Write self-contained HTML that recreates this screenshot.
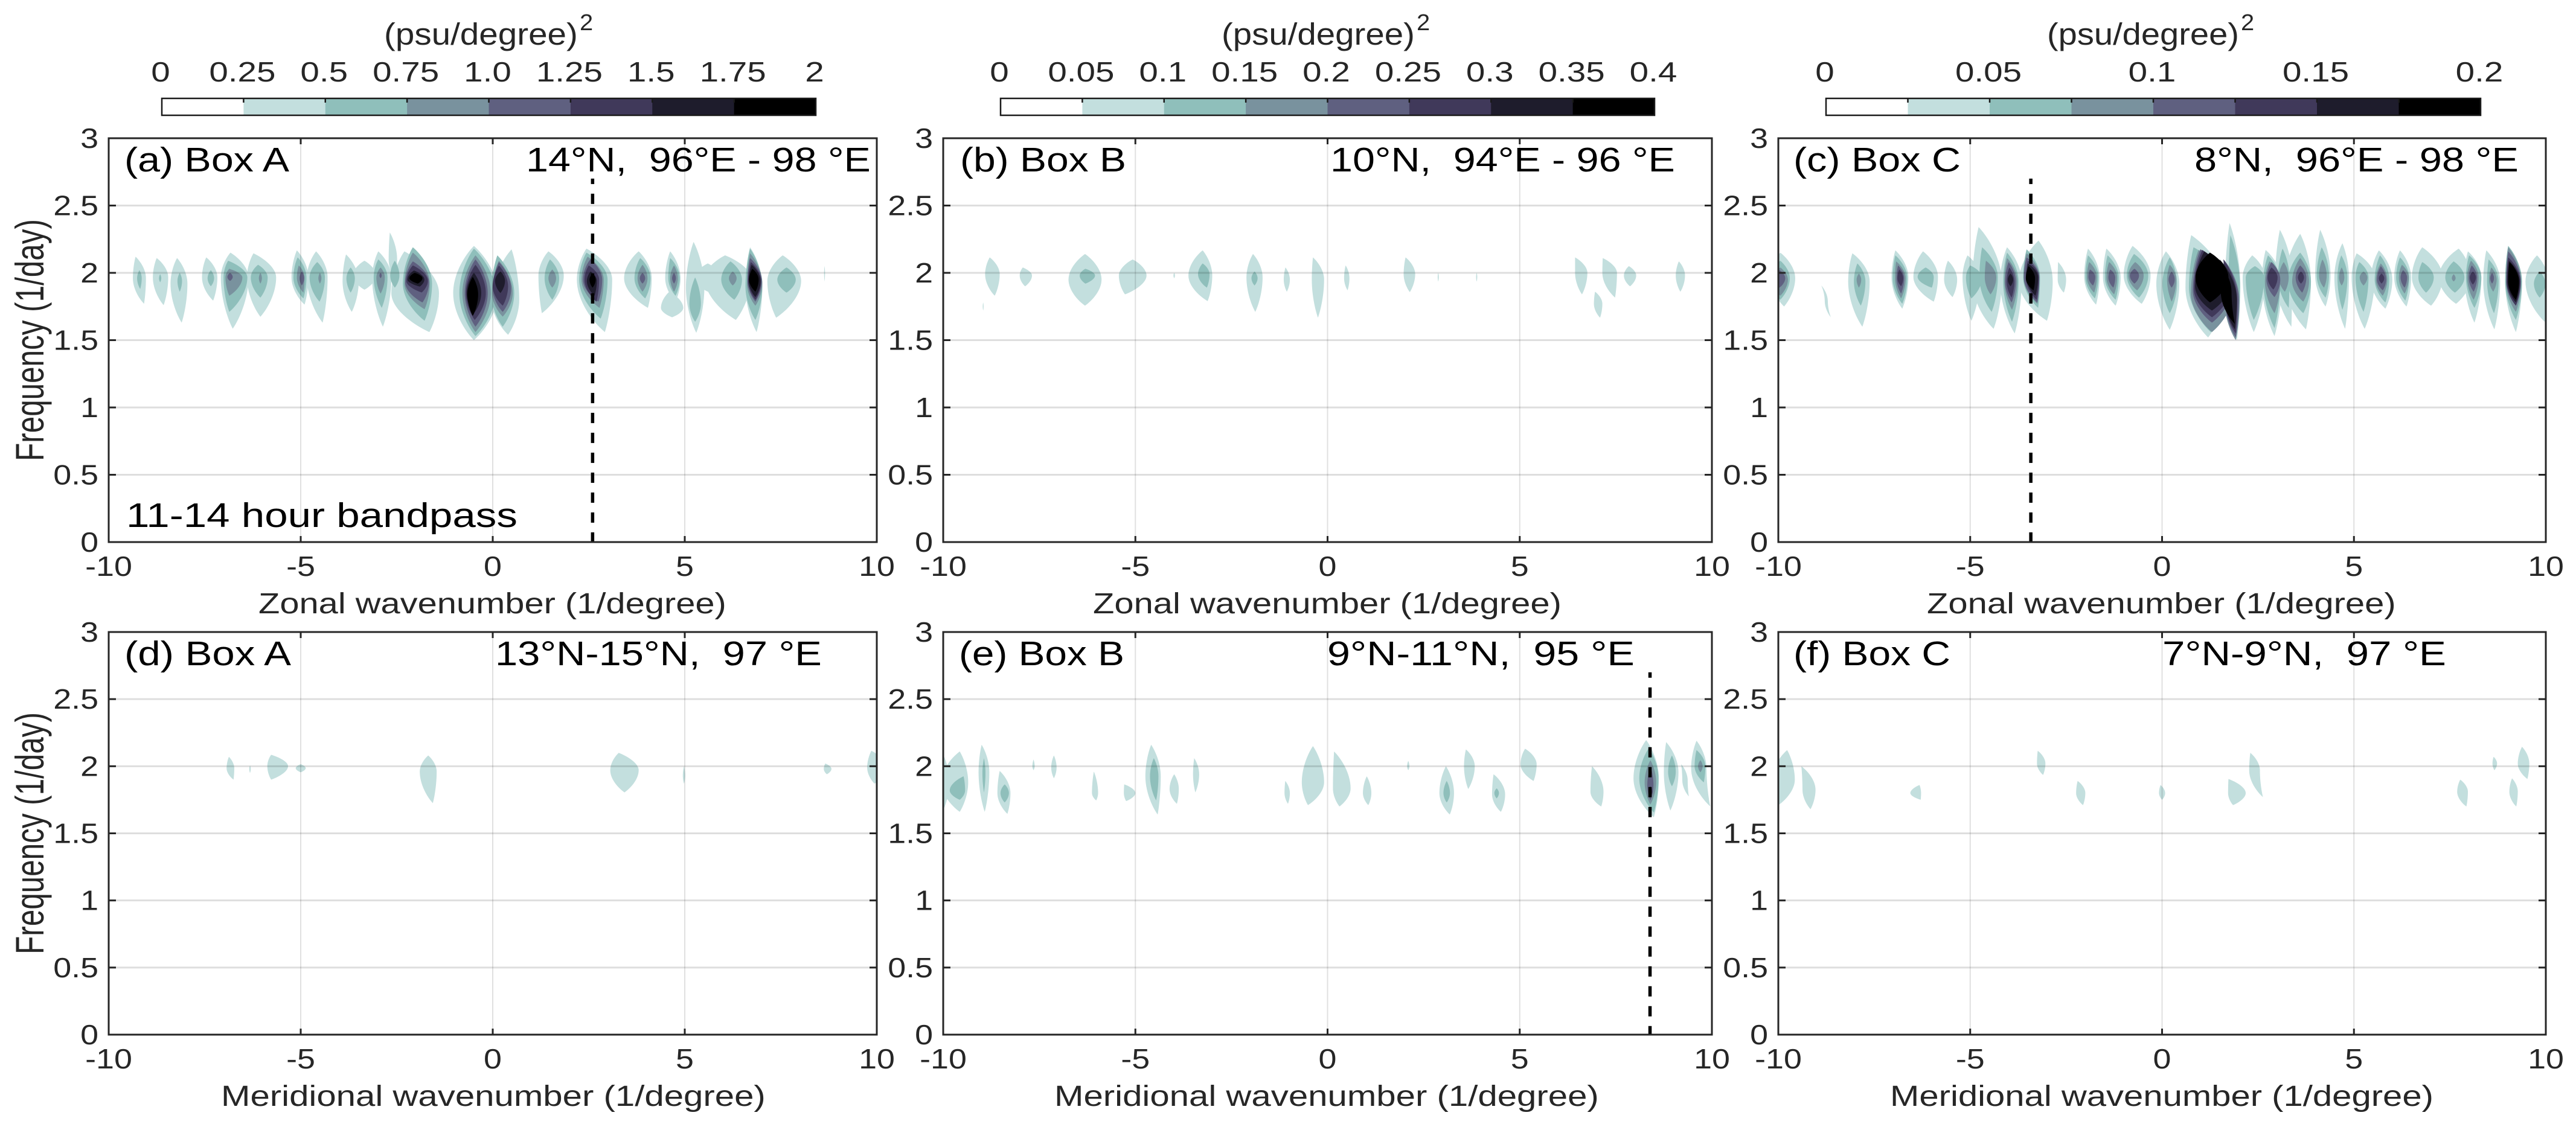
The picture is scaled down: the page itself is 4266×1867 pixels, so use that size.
<!DOCTYPE html>
<html lang="en">
<head>
<meta charset="utf-8">
<title>Wavenumber-frequency spectra, Box A, B, C</title>
<style>
html,body{margin:0;padding:0;background:#fff;width:4266px;height:1867px;overflow:hidden}
svg{display:block;font-family:"Liberation Sans",Arial,sans-serif}
</style>
</head>
<body>
<svg id="figure" xmlns="http://www.w3.org/2000/svg" width="4266" height="1867" viewBox="0 0 4266 1867"></svg>
<script>
// Tick labels
const xTickValues = [-10, -5, 0, 5, 10];
const yTickValues = [0, 0.5, 1, 1.5, 2, 2.5, 3];
const cbarLabelsA = ["0","0.25","0.5","0.75","1.0","1.25","1.5","1.75","2"];
const cbarLabelsB = ["0","0.05","0.1","0.15","0.2","0.25","0.3","0.35","0.4"];
const cbarLabelsC = ["0","","0.05","","0.1","","0.15","","0.2"];
const dashWavenumbers = {a: 2.6, c: -3.42, e: 8.39};
const dashTopFrequency = 2.7;

// Contour shapes: [level, kTop, fTop, kMid, fMid, halfWidth, kBottom, fBottom]
const shapesA = [
[1,-9.3,2.12,-9.2,1.96,.17,-9.08,1.77],[2,-9.2,2.02,-9.2,1.96,.06,-9.18,1.88],
[1,-8.75,2.11,-8.65,1.966,.2,-8.57,1.76],[2,-8.66,1.99,-8.66,1.96,.03,-8.66,1.93],
[1,-8.22,2.11,-8.17,1.92,.22,-8.1,1.63],[2,-8.15,2,-8.15,1.94,.06,-8.15,1.86],
[1,-7.46,2.115,-7.37,1.966,.2,-7.28,1.794],[2,-7.34,2.02,-7.34,1.96,.085,-7.34,1.9],
[1,-6.83,2.15,-6.72,1.966,.36,-6.77,1.585],[2,-6.89,2.09,-6.7,1.966,.31,-6.86,1.71],[3,-6.86,2.03,-6.74,1.966,.22,-6.86,1.83],[4,-6.84,2,-6.84,1.97,.07,-6.84,1.94],
[1,-6.23,2.145,-6.02,1.966,.38,-6.05,1.674],[2,-6.11,2.06,-6.08,1.966,.22,-6.05,1.816],[3,-6.05,2,-6.05,1.96,.04,-6.05,1.92],
[1,-5.1,2.167,-5.02,1.966,.22,-4.9,1.764],[2,-5.08,2.115,-5.02,1.966,.17,-4.93,1.81],[3,-5.05,2.055,-5,1.966,.1,-4.93,1.853],[4,-4.97,2.01,-4.97,1.96,.06,-4.97,1.906],
[1,-4.6,2.16,-4.57,1.966,.27,-4.43,1.63],[2,-4.57,2.08,-4.57,1.966,.2,-4.51,1.786],[3,-4.5,2,-4.5,1.96,.04,-4.5,1.92],
[1,-3.82,2.137,-3.7,1.936,.21,-3.67,1.71],[2,-3.7,2.04,-3.7,1.96,.11,-3.7,1.853],
[1,-3.34,2.09,-3.34,1.98,.3,-3.34,1.875],
[1,-2.98,2.16,-2.89,1.966,.25,-2.86,1.6],[2,-2.98,2.1,-2.92,1.966,.18,-2.89,1.74],[3,-2.92,2.04,-2.92,1.966,.11,-2.92,1.846],[4,-2.92,2,-2.92,1.98,.03,-2.92,1.96],
[1,-2.68,2.3,-2.6,2.1,.11,-2.55,1.95],[1,-2.3,2.16,-2.02,1.85,.62,-1.65,1.56],[2,-2.55,2.09,-2.55,1.98,.12,-2.55,1.89],
[2,-2.08,2.19,-1.96,1.92,.38,-1.775,1.644],[3,-2.08,2.15,-1.97,1.92,.33,-1.775,1.73],[4,-2.08,2.085,-1.97,1.93,.31,-1.83,1.78],[5,-2.08,2.055,-1.97,1.94,.28,-1.85,1.854],[6,-2.05,2.018,-2,1.95,.22,-1.9,1.898],[7,-2.03,2,-2,1.96,.17,-1.95,1.92],
[1,-.49,2.2,-.45,1.85,.58,-.49,1.5],[1,.49,2.175,.33,1.8,.36,.4,1.54],
[2,-.49,2.18,-.4,1.85,.47,-.45,1.53],[3,-.45,2.13,-.42,1.85,.37,-.45,1.56],[4,-.45,2.1,-.43,1.85,.3,-.45,1.6],[5,-.45,2.06,-.44,1.85,.26,-.47,1.65],[6,-.49,2,-.49,1.85,.19,-.49,1.7],[7,-.52,1.97,-.52,1.84,.14,-.52,1.68],
[2,.12,2.13,.26,1.85,.3,.26,1.6],[3,.16,2.09,.25,1.85,.27,.26,1.675],[4,.16,2.08,.24,1.88,.24,.26,1.71],[5,.16,2.055,.2,1.9,.2,.26,1.756],[6,.2,2.01,.19,1.94,.13,.2,1.85],
[1,1.45,2.16,1.52,1.98,.33,1.28,1.7],[2,1.49,2.1,1.54,1.96,.19,1.55,1.8],[3,1.55,2.025,1.55,1.96,.1,1.55,1.89],
[1,2.44,2.18,2.65,1.95,.46,2.92,1.56],[2,2.44,2.15,2.62,1.95,.37,2.81,1.66],[3,2.47,2.12,2.6,1.95,.29,2.78,1.74],[4,2.54,2.1,2.6,1.95,.25,2.75,1.786],[5,2.5,2.055,2.58,1.95,.19,2.7,1.786],[6,2.55,2.01,2.58,1.94,.13,2.65,1.83],[7,2.6,1.995,2.6,1.95,.08,2.6,1.89],
[1,3.8,2.16,3.78,1.96,.36,4.04,1.74],[2,3.84,2.11,3.9,1.96,.21,3.97,1.81],[3,3.9,2.06,3.9,1.96,.13,3.9,1.86],[4,3.9,2,3.9,1.96,.07,3.9,1.92],
[1,4.62,2.16,4.69,1.96,.2,4.76,1.786],[1,4.6,1.86,4.67,1.74,.29,4.67,1.67],[2,4.62,2.11,4.72,1.96,.15,4.76,1.83],[3,4.72,2.055,4.72,1.96,.1,4.72,1.86],[4,4.72,2,4.72,1.96,.05,4.72,1.92],
[1,5.23,2.23,5.27,1.89,.24,5.3,1.555],[1,5.6,2.07,5.6,1.96,.35,5.6,1.86],[1,6.05,2.13,6.12,1.96,.6,6.33,1.65],
[2,5.27,1.966,5.27,1.77,.15,5.27,1.637],[2,6.19,2.085,6.22,1.95,.27,6.29,1.8],[3,6.25,2.01,6.25,1.96,.1,6.25,1.906],
[1,6.7,2.19,6.8,1.9,.22,6.87,1.56],[2,6.7,2.18,6.8,1.9,.22,6.84,1.65],[3,6.7,2.145,6.82,1.92,.2,6.84,1.756],[4,6.7,2.11,6.82,1.94,.185,6.84,1.786],[5,6.72,2.08,6.82,1.94,.17,6.84,1.8],[6,6.74,2.06,6.82,1.94,.155,6.84,1.82],[7,6.76,2.03,6.8,1.95,.125,6.84,1.86],
[1,7.55,2.13,7.59,1.94,.44,7.38,1.667],[2,7.65,2.04,7.65,1.95,.24,7.65,1.853],
[1,8.64,2.05,8.64,2,.012,8.64,1.935]
];
const shapesB = [
[1,-8.79,2.115,-8.72,1.99,.19,-8.66,1.83],[1,-7.93,2.04,-7.85,1.98,.16,-7.87,1.9],
[1,-6.31,2.14,-6.31,1.95,.43,-6.31,1.756],[2,-6.3,2.03,-6.25,1.98,.2,-6.3,1.92],
[1,-5.07,2.1,-5.07,1.98,.36,-5.27,1.84],[1,-3.99,2,-3.99,1.98,.02,-3.99,1.96],
[1,-3.25,2.167,-3.31,1.98,.31,-3.12,1.79],[2,-3.25,2.07,-3.22,1.99,.15,-3.14,1.89],
[1,-1.94,2.14,-1.9,1.966,.21,-1.88,1.71],[2,-1.9,2.01,-1.9,1.96,.08,-1.9,1.906],
[1,-1.095,2.04,-1.06,1.95,.08,-1.06,1.86],[1,-.38,2.115,-.25,1.95,.16,-.25,1.667],[1,.47,2.055,.5,1.96,.07,.52,1.87],
[1,2.88,2,2.88,1.97,.015,2.88,1.935],[1,3.88,2,3.88,1.97,.015,3.88,1.935],
[1,2.03,2.115,2.13,1.99,.15,2.14,1.857],[1,6.44,2.115,6.6,2,.16,6.62,1.84],[1,7.16,2.11,7.34,2,.19,7.48,1.816],
[1,7.84,2.05,7.87,1.98,.16,7.87,1.9],[1,6.96,1.86,7.04,1.77,.11,7.09,1.667],[1,9.14,2.085,9.18,1.98,.12,9.18,1.86],[1,-8.96,1.78,-8.96,1.75,.012,-8.96,1.72]
];
const shapesC = [
[1,-9.95,2.15,-9.88,1.96,.32,-9.85,1.75],[2,-9.95,2.09,-9.95,1.96,.25,-9.95,1.8],[3,-9.95,2.04,-9.95,1.95,.2,-9.95,1.83],[4,-9.97,2.02,-9.97,1.96,.15,-9.97,1.89],
[1,-8.88,1.906,-8.75,1.79,.04,-8.63,1.67],
[1,-8.07,2.145,-7.9,1.936,.28,-7.81,1.6],[2,-7.94,2.07,-7.88,1.936,.15,-7.85,1.756],[3,-7.9,1.995,-7.9,1.95,.06,-7.9,1.89],
[1,-6.95,2.167,-6.83,1.966,.22,-6.77,1.734],[2,-6.95,2.13,-6.83,1.96,.19,-6.77,1.77],[3,-6.93,2.085,-6.82,1.96,.14,-6.8,1.81],[4,-6.88,2.055,-6.82,1.96,.1,-6.8,1.846],[5,-6.85,2.025,-6.82,1.96,.075,-6.8,1.9],
[1,-6.23,2.16,-6.16,1.97,.32,-5.95,1.786],[2,-6.16,2.04,-6.16,1.97,.21,-6,1.89],
[1,-5.58,2.09,-5.51,1.95,.17,-5.46,1.82],
[1,-5.07,2.13,-4.97,1.966,.23,-4.97,1.644],[1,-4.78,2.34,-4.56,1.936,.38,-4.39,1.584],[1,-4.04,2.19,-3.94,1.936,.28,-3.84,1.55],[1,-3.22,2.24,-3.29,1.936,.44,-3,1.644],
[2,-5,2.055,-4.9,1.966,.21,-4.97,1.81],[2,-4.69,2.19,-4.52,1.966,.24,-4.44,1.71],[3,-4.59,2.09,-4.47,1.966,.15,-4.47,1.84],
[2,-4.04,2.15,-3.94,1.936,.2,-3.91,1.637],[3,-4.04,2.11,-3.94,1.936,.17,-3.91,1.726],[4,-4,2.08,-3.95,1.936,.14,-3.92,1.78],[5,-3.98,2.04,-3.95,1.936,.1,-3.92,1.816],[6,-3.95,1.995,-3.95,1.95,.07,-3.95,1.9],
[2,-3.53,2.175,-3.4,1.966,.22,-3.23,1.74],[3,-3.53,2.145,-3.4,1.966,.21,-3.25,1.77],[4,-3.53,2.115,-3.4,1.966,.2,-3.25,1.78],[5,-3.5,2.09,-3.38,1.966,.17,-3.27,1.8],[6,-3.5,2.07,-3.38,1.966,.15,-3.3,1.83],[7,-3.48,2.05,-3.43,1.96,.12,-3.35,1.87],
[1,-2.71,2.08,-2.61,1.95,.11,-2.56,1.853],
[1,-1.93,2.18,-1.83,1.97,.2,-1.72,1.764],[2,-1.93,2.13,-1.83,1.97,.17,-1.75,1.81],[3,-1.9,2.08,-1.83,1.97,.13,-1.77,1.853],[4,-1.88,2.025,-1.83,1.97,.09,-1.8,1.906],
[1,-1.45,2.18,-1.31,1.966,.23,-1.21,1.756],[2,-1.42,2.13,-1.31,1.966,.18,-1.21,1.8],[3,-1.38,2.08,-1.31,1.966,.14,-1.25,1.84],[4,-1.35,2.025,-1.31,1.966,.09,-1.27,1.89],
[1,-.77,2.2,-.65,1.98,.35,-.53,1.77],[2,-.73,2.14,-.64,1.98,.28,-.6,1.816],[3,-.7,2.08,-.68,1.98,.2,-.65,1.87],[4,-.72,2.03,-.72,1.98,.12,-.72,1.92],
[1,.1,2.16,.15,1.92,.3,.2,1.577],[2,.2,2.115,.2,1.92,.19,.2,1.7],[3,.2,2.06,.25,1.95,.12,.25,1.786],[4,.25,2.01,.25,1.95,.08,.25,1.89],
[1,.76,2.28,1.13,1.89,.52,1.2,1.52],[1,1.76,2.37,1.84,1.9,.2,1.95,1.5],[2,.82,2.19,1.2,1.89,.5,1.27,1.56],[2,1.78,2.28,1.88,1.9,.15,1.91,1.52],
[3,.95,2.17,1.3,1.85,.55,1.3,1.56],[3,1.6,2.1,1.82,1.8,.2,1.92,1.5],[4,1,2.175,1.3,1.87,.5,1.3,1.63],[4,1.6,2.1,1.82,1.8,.18,1.92,1.52],
[5,1.05,2.17,1.3,1.88,.47,1.3,1.67],[5,1.6,2.1,1.8,1.8,.16,1.92,1.55],[6,1.1,2.16,1.3,1.9,.44,1.3,1.72],[6,1.5,2.1,1.8,1.8,.15,1.9,1.58],
[7,1.25,2.15,1.3,1.966,.43,1.25,1.78],[7,1.4,2.1,1.67,1.86,.14,1.9,1.62],
[1,2.35,2.13,2.39,1.966,.29,2.39,1.56],[2,2.42,2.05,2.42,1.966,.24,2.39,1.65],
[1,2.7,2.17,2.86,1.936,.26,2.93,1.53],[2,2.76,2.13,2.86,1.936,.22,2.93,1.59],[3,2.8,2.085,2.88,1.936,.2,2.93,1.7],[4,2.85,2.08,2.9,1.95,.18,2.93,1.82],[5,2.85,2.04,2.88,1.966,.13,2.9,1.876],
[1,3.07,2.32,3.17,1.966,.22,3.37,1.6],[2,3.14,2.18,3.17,1.966,.15,3.3,1.74],[3,3.17,2.08,3.17,1.966,.13,3.2,1.86],
[1,3.6,2.29,3.54,1.936,.34,3.75,1.58],[2,3.6,2.15,3.58,1.936,.3,3.68,1.7],[3,3.6,2.11,3.61,1.936,.22,3.68,1.786],[4,3.6,2.055,3.62,1.966,.14,3.65,1.853],[5,3.62,2.01,3.62,1.966,.08,3.62,1.92],
[1,4.12,2.32,4.19,1.98,.2,4.26,1.75],[2,4.16,2.19,4.19,1.98,.16,4.26,1.816],[3,4.18,2.1,4.19,1.98,.1,4.22,1.89],
[1,4.7,2.22,4.68,1.966,.19,4.77,1.584],[2,4.67,2.13,4.7,1.966,.13,4.7,1.726],[3,4.68,2.04,4.68,1.966,.07,4.68,1.906],
[1,5.07,2.145,5.24,1.966,.3,5.28,1.584],[2,5.14,2.08,5.21,1.966,.17,5.25,1.71],[3,5.25,2.01,5.25,1.966,.1,5.25,1.906],
[1,5.65,2.167,5.72,1.95,.28,5.82,1.734],[2,5.68,2.13,5.73,1.95,.19,5.82,1.78],[3,5.7,2.07,5.72,1.95,.15,5.75,1.83],[4,5.7,2.05,5.72,1.95,.12,5.75,1.87],[5,5.72,1.995,5.72,1.96,.07,5.72,1.92],
[1,6.2,2.167,6.27,1.966,.22,6.37,1.75],[2,6.2,2.115,6.27,1.966,.17,6.34,1.794],[3,6.25,2.06,6.3,1.966,.13,6.32,1.846],[4,6.28,2.02,6.3,1.966,.085,6.32,1.89],
[1,6.78,2.19,6.91,1.966,.4,7.01,1.756],[2,6.78,2.08,6.88,1.966,.2,6.88,1.853],
[1,7.73,2.18,7.63,1.966,.42,7.66,1.77],[2,7.6,2.085,7.63,1.966,.25,7.63,1.853],[3,7.6,1.99,7.6,1.96,.05,7.6,1.936],
[1,7.97,2.16,8.1,1.966,.22,8.14,1.63],[2,8,2.13,8.12,1.966,.2,8.14,1.74],[3,8.05,2.09,8.1,1.966,.15,8.12,1.8],[4,8.07,2.055,8.1,1.966,.11,8.12,1.86],[5,8.1,2.01,8.1,1.966,.08,8.1,1.913],
[1,8.45,2.167,8.59,1.936,.22,8.66,1.58],[2,8.51,2.1,8.62,1.936,.15,8.65,1.7],[3,8.58,2.04,8.62,1.95,.1,8.63,1.86],[4,8.6,2,8.6,1.96,.05,8.6,1.92],
[1,9.02,2.2,9.16,1.936,.22,9.22,1.56],[2,9.02,2.2,9.16,1.936,.22,9.22,1.65],[3,9.02,2.19,9.16,1.936,.2,9.22,1.71],[4,9.02,2.16,9.16,1.936,.19,9.22,1.756],[5,9.02,2.115,9.16,1.936,.18,9.22,1.756],[6,9.04,2.09,9.16,1.936,.16,9.22,1.78],[7,9.05,2.08,9.16,1.936,.14,9.22,1.8],
[1,9.77,2.13,9.77,1.936,.3,9.97,1.637],[2,9.84,2.01,9.84,1.92,.15,9.84,1.816]
];
const shapesD = [
[1,-6.87,2.07,-6.83,1.985,.1,-6.75,1.9],[1,-6.32,2.005,-6.32,1.98,.02,-6.32,1.95],[1,-5.77,2.085,-5.6,2,.27,-5.77,1.9],[1,-5,2.015,-5,1.985,.13,-5,1.955],
[1,-1.68,2.08,-1.68,1.96,.22,-1.56,1.725],[1,3.28,2.1,3.43,1.97,.37,3.43,1.805],[1,4.98,2,4.98,1.93,.03,4.98,1.87],[1,8.66,2.02,8.72,1.98,.1,8.7,1.94],[1,9.86,2.115,10,1.99,.25,9.94,1.87]
];
const shapesE = [
[1,-9.57,2.11,-9.7,1.88,.35,-9.57,1.66],[1,-9.99,2.08,-9.99,1.88,.15,-9.99,1.68],[2,-9.47,1.925,-9.63,1.82,.2,-9.57,1.75],
[1,-9,2.16,-8.94,1.955,.14,-8.92,1.66],[2,-8.94,2.06,-8.94,1.95,.04,-8.94,1.805],
[1,-8.53,1.965,-8.42,1.8,.17,-8.33,1.645],[2,-8.4,1.865,-8.4,1.8,.11,-8.4,1.73],
[1,-7.65,2.05,-7.65,2,.03,-7.65,1.97],[1,-7.12,2.08,-7.12,1.99,.07,-7.12,1.91],[1,-6.08,1.96,-6.05,1.8,.08,-6.02,1.745],[1,-5.29,1.865,-5.15,1.8,.15,-5.24,1.74],
[1,-4.59,2.16,-4.54,1.925,.2,-4.42,1.64],[2,-4.52,2.06,-4.51,1.925,.11,-4.46,1.745],[1,-3.99,1.94,-3.99,1.83,.12,-3.92,1.72],[1,-3.47,2.06,-3.42,1.94,.08,-3.44,1.805],
[1,-1.1,1.89,-1.05,1.8,.07,-1.03,1.72],[1,-.38,2.15,-.38,1.88,.29,-.51,1.71],[1,.17,2.11,.37,1.835,.23,.31,1.7],[1,1.02,1.925,1.03,1.8,.11,1.06,1.71],[1,2.1,2.04,2.1,2,.03,2.1,1.97],
[1,3.08,2,3.1,1.8,.19,3.18,1.64],[2,3.1,1.89,3.1,1.8,.085,3.1,1.73],[1,3.6,2.125,3.69,2,.14,3.66,1.83],[1,4.32,1.94,4.45,1.79,.17,4.51,1.66],[2,4.4,1.835,4.4,1.8,.06,4.4,1.76],
[1,5.14,2.13,5.23,2.015,.21,5.36,1.89],[1,6.88,2,7.01,1.81,.17,7.12,1.7],
[1,8.29,2.195,8.29,1.91,.33,8.49,1.62],[2,8.36,2.135,8.36,1.91,.25,8.49,1.655],[3,8.4,2.045,8.4,1.88,.15,8.4,1.715],[4,8.4,2,8.4,1.86,.08,8.4,1.745],[5,8.4,1.85,8.4,1.81,.05,8.4,1.775],
[1,8.81,2.18,8.94,1.955,.19,8.92,1.67],[2,8.96,2.08,8.96,1.96,.1,8.96,1.85],[1,9.2,2.015,9.3,1.895,.07,9.4,1.775],
[1,9.6,2.19,9.66,1.985,.2,9.96,1.7],[2,9.6,2.12,9.69,2,.14,9.79,1.88],[3,9.7,2.045,9.7,2,.06,9.7,1.955]
];
const shapesF = [
[1,-9.77,2.12,-9.87,1.9,.3,-10,1.71],[1,-9.4,2,-9.2,1.825,.17,-9.16,1.68],[1,-6.32,1.86,-6.42,1.8,.14,-6.29,1.75],[1,-3.24,2.115,-3.15,2.02,.11,-3.1,1.935],
[1,-2.2,1.89,-2.12,1.8,.12,-2.06,1.71],[1,-.04,1.86,0,1.8,.08,0,1.75],[1,1.73,1.905,1.95,1.8,.23,1.85,1.71],[1,2.3,2.1,2.41,1.97,.14,2.63,1.77],
[1,7.77,1.9,7.83,1.81,.14,7.93,1.7],[1,8.64,2.07,8.67,2.02,.06,8.66,1.97],[1,9.12,1.91,9.16,1.81,.11,9.23,1.7],[1,9.38,2.145,9.42,2.02,.15,9.52,1.905]
];

// Level fill colours, lowest to highest band
const levelFill = ["#ffffff","#c3dfde","#8fbfbb","#79929e","#5f6080","#40395a","#1e1c2c","#000000"];

const NS = "http://www.w3.org/2000/svg";
const svg = document.getElementById("figure");
const defs = document.createElementNS(NS, "defs");
svg.appendChild(defs);

function mk(tag, parent, attrs) {
  const el = document.createElementNS(NS, tag);
  for (const key in attrs) el.setAttribute(key, attrs[key]);
  parent.appendChild(el);
  return el;
}

function label(parent, str, size, fill, x, y, anchor, sx) {
  const t = mk("text", parent, {"font-size": size, fill: fill, "text-anchor": anchor,
    transform: "translate(" + x + "," + y + ") scale(" + sx + ",1)"});
  t.textContent = str;
  t.setAttribute("xml:space", "preserve");
  return t;
}

function fitted(parent, str, size, fill, x0, x1, y) {
  const t = label(parent, str, size, fill, x0, y, "start", 1);
  const w = t.getComputedTextLength();
  t.setAttribute("transform", "translate(" + x0 + "," + y + ") scale(" + ((x1 - x0) / w) + ",1)");
  return t;
}

function drawPanel(cfg) {
  const g = mk("g", svg, {});
  
  
  const L = cfg.left, R = cfg.right, T = cfg.top, B = cfg.top + cfg.h;
  const x = k => L + (k + 10) / 20 * (R - L);
  const y = f => B - f / 3 * (B - T);

  const clip = mk("clipPath", defs, {id: "clip-" + cfg.id});
  mk("rect", clip, {x: L, y: T, width: R - L, height: B - T});

  // contour bands, lowest level first
  const cg = mk("g", g, {"clip-path": "url(#clip-" + cfg.id + ")"});
  
  
  const ordered = cfg.shapes.slice().sort((a, b) => a[0] - b[0]);
  ordered.forEach(s => {
    const xt = x(s[1]), yt = y(s[2]), xm = x(s[3]), ym = y(s[4]), xb = x(s[6]), yb = y(s[7]);
    const hw = x(s[3] + s[5]) - xm;
    const rx = xm + hw, lx = xm - hw;
    const up = ym - yt, dn = yb - ym;
    const seg = (edge) =>
      "C" + (xt + .45 * (edge - xt)) + " " + (yt + .2 * up) + " " + edge + " " + (ym - .4 * up) + " " + edge + " " + ym +
      "C" + edge + " " + (ym + .4 * dn) + " " + (xb + .45 * (edge - xb)) + " " + (yb - .2 * dn) + " " + xb + " " + yb;
    const segBack =
      "C" + (xb + .45 * (lx - xb)) + " " + (yb - .2 * dn) + " " + lx + " " + (ym + .4 * dn) + " " + lx + " " + ym +
      "C" + lx + " " + (ym - .4 * up) + " " + (xt + .45 * (lx - xt)) + " " + (yt + .2 * up) + " " + xt + " " + yt + "Z";
    const p = mk("path", cg, {d: "M" + xt + " " + yt + seg(rx) + segBack, fill: levelFill[s[0]]});
    
    
  });

  // grid
  const grid = mk("g", g, {});
  
  
  xTickValues.slice(1, -1).forEach(v => mk("line", grid, {x1: x(v), x2: x(v), y1: T, y2: B, stroke: "#000", "stroke-opacity": .12, "stroke-width": 2}));
  yTickValues.slice(1, -1).forEach(v => mk("line", grid, {x1: L, x2: R, y1: y(v), y2: y(v), stroke: "#000", "stroke-opacity": .13, "stroke-width": 3}));

  // dashed reference line
  if (cfg.dashK !== undefined) {
    const d = mk("line", g, {x1: x(cfg.dashK), x2: x(cfg.dashK), y1: y(dashTopFrequency), y2: B, stroke: "#000",
      "stroke-width": 5.5, "stroke-dasharray": "17 16", "stroke-dashoffset": 8});
    
    
  }

  // axes box and ticks
  const box = mk("rect", g, {x: L, y: T, width: R - L, height: B - T, fill: "none", stroke: "#262626", "stroke-width": 3});
  
  
  const ticks = mk("g", g, {stroke: "#262626", "stroke-width": 3});
  
  
  xTickValues.slice(1, -1).forEach(v => {
    mk("line", ticks, {x1: x(v), x2: x(v), y1: T, y2: T + 10});
    mk("line", ticks, {x1: x(v), x2: x(v), y1: B, y2: B - 10});
  });
  yTickValues.slice(1, -1).forEach(v => {
    mk("line", ticks, {x1: L, x2: L + 12, y1: y(v), y2: y(v)});
    mk("line", ticks, {x1: R, x2: R - 12, y1: y(v), y2: y(v)});
  });

  // tick labels
  xTickValues.forEach(v => {
    const t = label(g, String(v), 46, "#262626", x(v), B + 56, "middle", 1.17);
    
    
  });
  yTickValues.forEach(v => {
    const t = label(g, String(v), 46, "#262626", L - 17, y(v) + 16, "end", 1.17);
    
    
  });

  // axis titles
  const xt = fitted(g, cfg.xTitle, 48, "#262626", cfg.xTitleX[0], cfg.xTitleX[1], B + 118);
  
  
  if (cfg.yTitle) {
    const yt = mk("text", g, {"font-size": 49.4, fill: "#262626", "text-anchor": "middle",
      transform: "translate(72," + (T + B) / 2 + ") rotate(-90) scale(1,1.33)"});
    yt.textContent = "Frequency (1/day)";
    
    
  }

  // annotations
  const a1 = fitted(g, cfg.tag, 57, "#000", cfg.tagX[0], cfg.tagX[1], T + 55);
  
  
  const a2 = fitted(g, cfg.loc, 57, "#000", cfg.locX[0], cfg.locX[1], T + 55);
  
  
  if (cfg.note) {
    const n = fitted(g, cfg.note, 57, "#000", 209, 857, B - 25);
    
    
  }
}

function drawColorbar(cfg) {
  const g = mk("g", svg, {});
  
  
  const X0 = cfg.x0, X1 = cfg.x1, Y0 = 163, Y1 = 191;
  const pos = i => X0 + i / 8 * (X1 - X0);
  levelFill.forEach((c, i) => {
    const r = mk("rect", g, {x: pos(i), y: Y0, width: pos(i + 1) - pos(i) + .5, height: Y1 - Y0, fill: c});
    
    
  });
  mk("rect", g, {x: X0, y: Y0, width: X1 - X0, height: Y1 - Y0, fill: "none", stroke: "#1a1a1a", "stroke-width": 2.5});
  for (let i = 1; i < 8; i++) mk("line", g, {x1: pos(i), x2: pos(i), y1: Y0, y2: Y0 + 7, stroke: "#1a1a1a", "stroke-width": 2.5});
  cfg.labels.forEach((s, i) => {
    if (!s) return;
    const t = label(g, s, 46, "#262626", pos(i) - 2, 135, "middle", 1.23);
    
    
  });
  const title = fitted(g, "(psu/degree)", 51, "#262626", cfg.title[0], cfg.title[1], 74);
  
  
  const sup = label(g, "2", 38, "#262626", cfg.title[1] + 3, 50, "start", 1.05);
  
  
}

const ZONAL = "Zonal wavenumber (1/degree)";
const MERID = "Meridional wavenumber (1/degree)";
const SP = "\u00a0\u00a0";

drawPanel({id:"a",left:180,right:1452,top:229,h:669,shapes:shapesA,dashK:dashWavenumbers.a,xTitle:ZONAL,xTitleX:[428,1203],yTitle:true,
  tag:"(a) Box A",tagX:[206,479],loc:"14°N,"+SP+"96°E - 98 °E",locX:[871,1442],note:"11-14 hour bandpass"});
drawPanel({id:"b",left:1562,right:2835,top:229,h:669,shapes:shapesB,xTitle:ZONAL,xTitleX:[1810,2586],
  tag:"(b) Box B",tagX:[1590,1865],loc:"10°N,"+SP+"94°E - 96 °E",locX:[2203,2774]});
drawPanel({id:"c",left:2945,right:4216,top:229,h:669,shapes:shapesC,dashK:dashWavenumbers.c,xTitle:ZONAL,xTitleX:[3191,3968],
  tag:"(c) Box C",tagX:[2970,3247],loc:"8°N,"+SP+"96°E - 98 °E",locX:[3634,4171]});
drawPanel({id:"d",left:180,right:1452,top:1047,h:667,shapes:shapesD,xTitle:MERID,xTitleX:[366,1268],yTitle:true,
  tag:"(d) Box A",tagX:[206,482],loc:"13°N-15°N,"+SP+"97 °E",locX:[820,1361]});
drawPanel({id:"e",left:1562,right:2835,top:1047,h:667,shapes:shapesE,dashK:dashWavenumbers.e,xTitle:MERID,xTitleX:[1746,2648],
  tag:"(e) Box B",tagX:[1588,1862],loc:"9°N-11°N,"+SP+"95 °E",locX:[2198,2707]});
drawPanel({id:"f",left:2945,right:4216,top:1047,h:667,shapes:shapesF,xTitle:MERID,xTitleX:[3130,4030],
  tag:"(f) Box C",tagX:[2970,3230],loc:"7°N-9°N,"+SP+"97 °E",locX:[3581,4051]});

drawColorbar({id:"a",x0:268,x1:1351,labels:cbarLabelsA,title:[636,957]});
drawColorbar({id:"b",x0:1657,x1:2740,labels:cbarLabelsB,title:[2023,2343]});
drawColorbar({id:"c",x0:3024,x1:4108,labels:cbarLabelsC,title:[3390,3708]});
</script>
</body>
</html>
